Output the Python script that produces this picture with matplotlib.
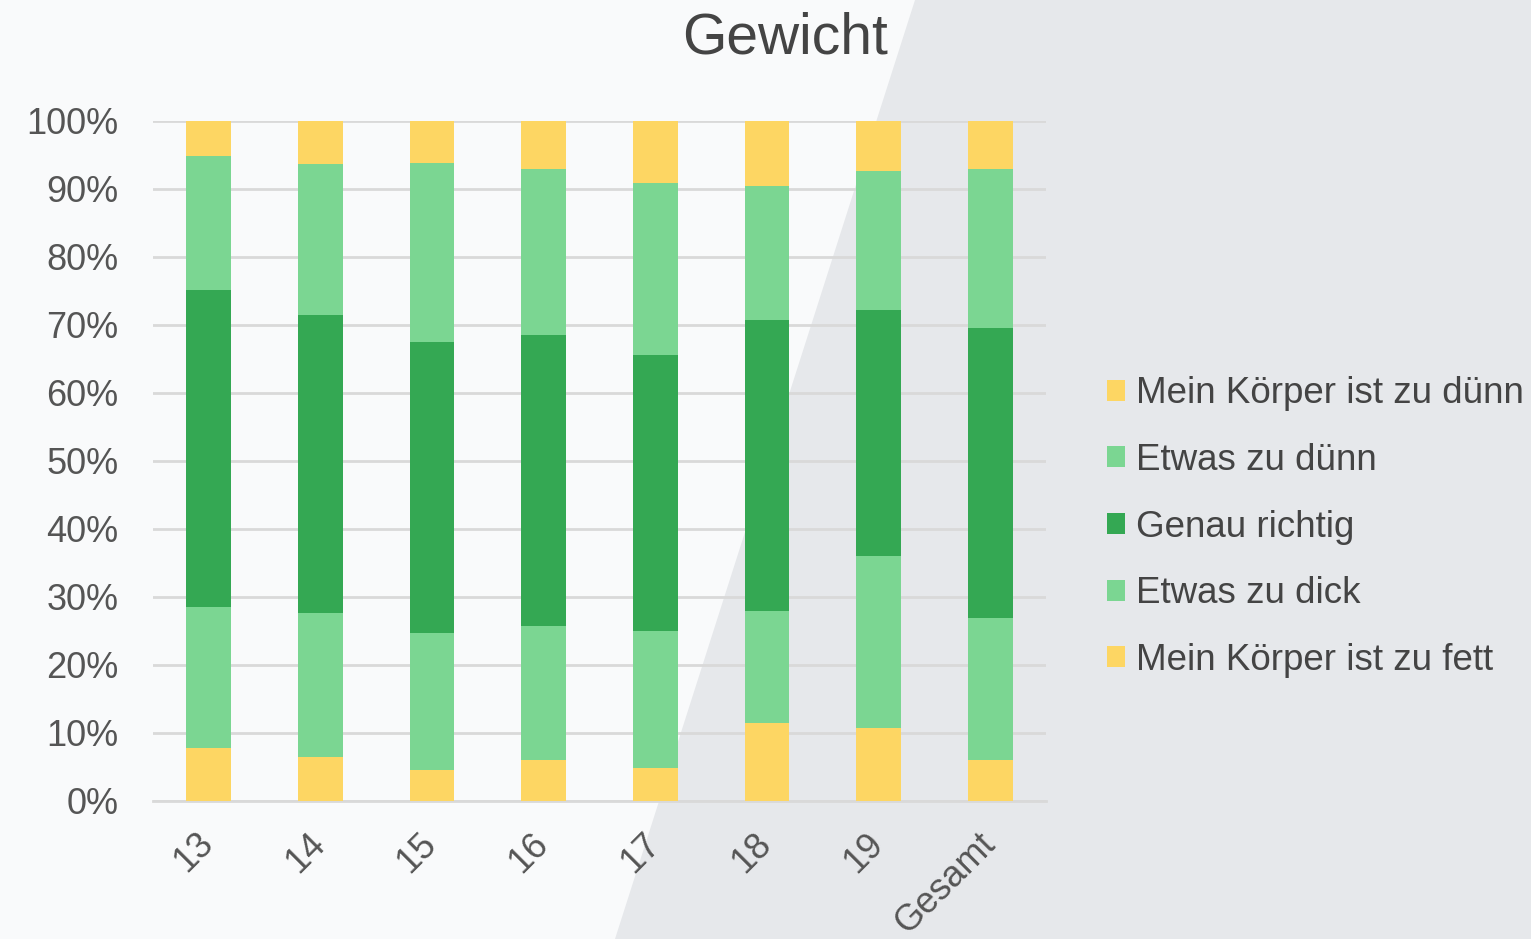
import matplotlib.pyplot as plt
import matplotlib.transforms as mtransforms
import numpy as np
from matplotlib.patches import Polygon

plt.rcParams['font.family'] = ['Liberation Sans', 'DejaVu Sans']

# Altersgruppen
categories = ['13', '14', '15', '16', '17', '18', '19', 'Gesamt']

# Anteile in %, von unten nach oben gestapelt
zu_fett = [7.8, 6.4, 4.6, 6.0, 4.9, 11.4, 10.7, 6.1]
etwas_dick = [20.7, 21.3, 20.1, 19.8, 20.1, 16.5, 25.3, 20.8]
genau_richtig = [46.6, 43.8, 42.8, 42.7, 40.6, 42.9, 36.2, 42.6]
etwas_duenn = [19.8, 22.2, 26.3, 24.4, 25.3, 19.7, 20.4, 23.4]
zu_duenn = [5.1, 6.3, 6.2, 7.1, 9.1, 9.5, 7.4, 7.1]

series = [zu_fett, etwas_dick, genau_richtig, etwas_duenn, zu_duenn]
labels = ['Mein Körper ist zu fett', 'Etwas zu dick', 'Genau richtig',
          'Etwas zu dünn', 'Mein Körper ist zu dünn']
colors = ['#FDD663', '#7BD692', '#34A853', '#7BD692', '#FDD663']

W, H = 1531.0, 939.0
fig = plt.figure(figsize=(15.31, 9.39), dpi=100)
fig.patch.set_facecolor('#e6e8eb')

# Hintergrund: heller Bereich links (Folie)
bgax = fig.add_axes([0, 0, 1, 1], zorder=-1)
bgax.set_xlim(0, 1)
bgax.set_ylim(0, 1)
bgax.axis('off')
bgax.add_patch(Polygon([(0, 0), (0, 1), (915 / W, 1), (615 / W, 0)], closed=True,
                       facecolor='#f9fafb', edgecolor='none'))

ax = fig.add_axes([153 / W, 1 - 801 / H, (1046 - 153) / W, (801 - 121) / H])
ax.set_facecolor('none')

x = np.arange(len(categories))
data = np.array(series, dtype=float)
data = data / data.sum(axis=0)  # 100% gestapelt
bottom = np.zeros(len(categories))
handles = []
for vals, lab, col in zip(data, labels, colors):
    b = ax.bar(x, vals, 0.4, bottom=bottom, color=col, label=lab, zorder=3)
    handles.append(b)
    bottom += vals

ax.set_xlim(-0.5, len(categories) - 0.5)
ax.set_ylim(0, 1)
ax.set_yticks(np.arange(0, 1.01, 0.1))
ax.set_yticklabels(['%d%%' % v for v in range(0, 101, 10)])
ax.yaxis.grid(True, color='#d9d9d9', linewidth=2, zorder=0)
ax.set_axisbelow(True)
for s in ['top', 'right', 'left']:
    ax.spines[s].set_visible(False)
ax.spines['bottom'].set_color('#d9d9d9')
ax.spines['bottom'].set_linewidth(2)
ax.tick_params(axis='y', length=0, pad=25, labelsize=26, labelcolor='#555555')
ax.tick_params(axis='x', length=0, pad=18, labelsize=26, labelcolor='#555555')
ax.set_xticks(x)
ax.set_xticklabels(categories, rotation=45, ha='right', rotation_mode='anchor')
shift = mtransforms.ScaledTranslation(-13 / 100, 0, fig.dpi_scale_trans)
for t in ax.get_xticklabels():
    t.set_transform(t.get_transform() + shift)

fig.text(785 / W, 1 - 38 / H, 'Gewicht', ha='center', va='center',
         fontsize=41, color='#444444')

leg = fig.legend(handles[::-1], labels[::-1], loc='center left',
                 bbox_to_anchor=(1107 / W, 1 - 527 / H), frameon=False,
                 fontsize=26.5, labelcolor='#444444', handlelength=0.5,
                 handleheight=0.5, handletextpad=0.3, labelspacing=0.86,
                 borderaxespad=0, borderpad=0)

fig.savefig('out.png', dpi=100, facecolor=fig.get_facecolor())
